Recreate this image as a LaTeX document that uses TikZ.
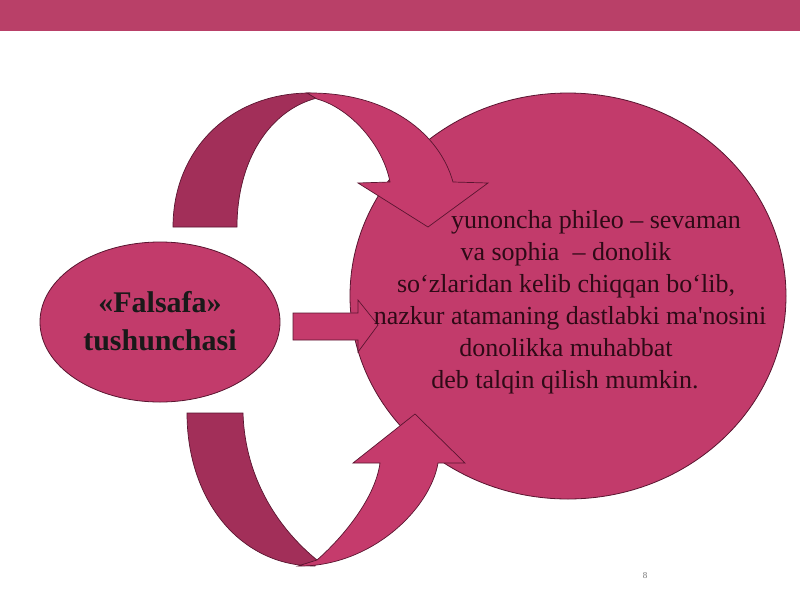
\documentclass[tikz,border=0pt]{standalone}
\usepackage{fontspec}
\setmainfont{Liberation Serif}
\usetikzlibrary{shapes.geometric}
\definecolor{bandc}{HTML}{B94068}
\definecolor{mainc}{HTML}{C23B6B}
\definecolor{lightc}{HTML}{C53B6C}
\definecolor{darkc}{HTML}{A22F59}
\definecolor{edgec}{HTML}{5A1530}
\definecolor{txtc}{HTML}{2E0A16}
\tikzset{
  blob/.style={ellipse, draw=edgec, fill=mainc, line width=0.8pt, inner sep=0pt},
  lightarrow/.style={fill=lightc, draw=edgec, line width=0.7pt, line join=miter},
  darkarrow/.style={fill=darkc, draw=edgec, line width=0.7pt},
  bigtxt/.style={anchor=base, text=txtc, font=\fontsize{26}{32}\selectfont, inner sep=0pt},
  lefttxt/.style={anchor=base, text=black!90, font=\fontsize{30}{38}\selectfont\bfseries, inner sep=0pt},
}
\begin{document}
\begin{tikzpicture}[x=1pt,y=-1pt]
\useasboundingbox (0,0) rectangle (800,600);
\fill[white] (0,0) rectangle (800,600);
% top band
\fill[bandc] (0,0) rectangle (800,31);
% big ellipse
\node[blob, minimum width=436pt, minimum height=406pt] (big) at (568,296) {};
% top curved arrow
\draw[darkarrow] (173,227) .. controls (173,150) and (230,93) .. (310,93)
  -- (317,98) .. controls (270,110) and (237,160) .. (237,227) -- cycle;
\draw[lightarrow] (307,93) .. controls (390,92) and (440,135) .. (453,182)
  -- (488,183) -- (428,227) -- (358,183) -- (390,182)
  .. controls (383,145) and (350,108) .. (317,99) -- cycle;
% bottom curved arrow
\draw[darkarrow] (187,413) .. controls (187,500) and (240,566) .. (315,566)
  -- (317,560) .. controls (280,530) and (245,480) .. (243,413) -- cycle;
\draw[lightarrow] (298,566) .. controls (370,567) and (430,510) .. (438,463)
  -- (465,463) -- (415,414) -- (353,463) -- (380,463)
  .. controls (375,500) and (340,540) .. (317,560) -- cycle;
% middle arrow
\draw[lightarrow] (293,313) -- (358,313) -- (358,300) -- (378,325) -- (358,352)
  -- (358,340) -- (293,340) -- cycle;
% left ellipse
\node[blob, minimum width=240pt, minimum height=160pt] (left) at (160,322) {};
\node[lefttxt] (l1) at (160,312) {«Falsafa»};
\node[lefttxt] (l2) at (160,350) {tushunchasi};
% right text
\node[bigtxt] (t1) at (596,228) {yunoncha phileo – sevaman};
\node[bigtxt] (t2) at (566,260) {va sophia \ – donolik};
\node[bigtxt] (t3) at (566,292) {so‘zlaridan kelib chiqqan bo‘lib,};
\node[bigtxt] (t4) at (570,324) {nazkur atamaning dastlabki ma\textquotesingle nosini};
\node[bigtxt] (t5) at (566,356) {donolikka muhabbat};
\node[bigtxt] (t6) at (565,388) {deb talqin qilish mumkin.};
% page number
\node[anchor=base, text=black!55, font=\fontsize{9}{10}\selectfont, inner sep=0pt] (pg) at (645,578) {8};
\end{tikzpicture}
\end{document}
